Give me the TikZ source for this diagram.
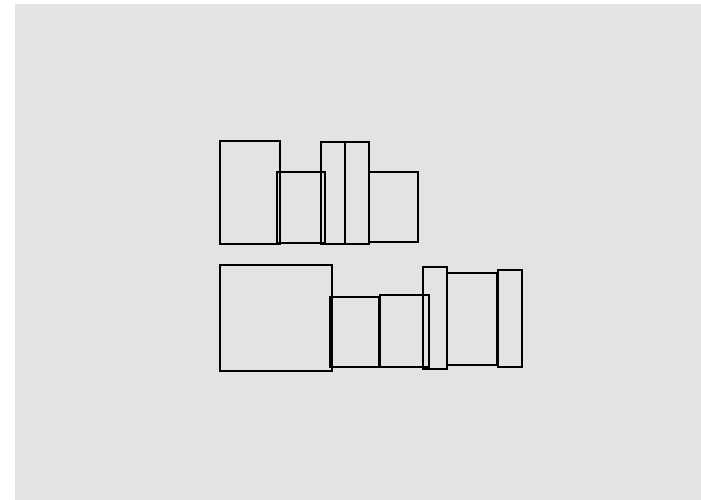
\documentclass[tikz,border=0pt]{standalone}
\definecolor{bggray}{HTML}{E3E3E3}
\tikzset{
  box/.style={draw=black, line width=1.7pt, inner sep=0pt, outer sep=0pt, anchor=north west, rectangle}
}
\newcommand{\rbox}[5]{\node[box, minimum width=#4pt, minimum height=#5pt] (#1) at (#2pt,-#3pt) {};}
\begin{document}
\begin{tikzpicture}
\useasboundingbox (0,0) rectangle (701pt,-500pt);
\fill[bggray] (15pt,-4pt) rectangle (701pt,-500pt);
% top row
\rbox{t1}{219.8}{140.8}{59.9}{103.2}
\rbox{t2}{276.7}{171.7}{48.3}{71}
\rbox{t3}{320.8}{142.3}{24}{101.7}
\rbox{t4}{344.8}{142.3}{24.2}{101.7}
\rbox{t5}{369}{171.7}{49.3}{70.6}
% bottom row
\rbox{b1}{219.7}{265.3}{112.6}{105.4}
\rbox{b2}{329.7}{296.7}{49.3}{70.6}
\rbox{b3}{379.7}{294.7}{49.3}{72.6}
\rbox{b4}{422.7}{267.3}{24.6}{101.7}
\rbox{b5}{447}{272.7}{50.3}{92.3}
\rbox{b6}{498.3}{269.7}{24}{97.3}
\end{tikzpicture}
\end{document}
